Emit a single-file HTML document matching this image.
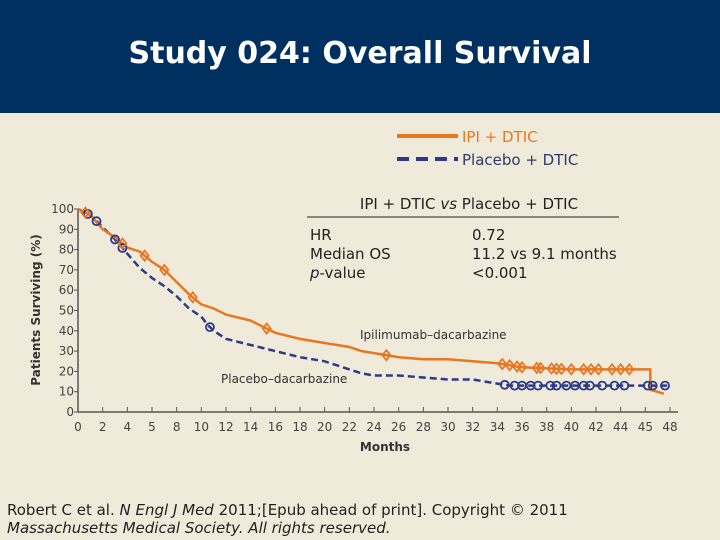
<!DOCTYPE html>
<html><head><meta charset="utf-8"><style>
body{margin:0;width:720px;height:540px;background:#f0eadb;font-family:"DejaVu Sans","Liberation Sans",sans-serif;overflow:hidden;position:relative}
.hdr{position:absolute;left:0;top:0;width:720px;height:113px;background:#00305f}
.hdr h1{margin:0;position:absolute;top:36px;width:720px;text-align:center;color:#fff;font-size:30px;font-weight:bold;font-family:"DejaVu Sans","Liberation Sans",sans-serif}
.t{position:absolute;font-size:15px;color:#222;white-space:nowrap}
</style></head><body>
<div class="hdr"><h1>Study 024: Overall Survival</h1></div>
<svg width="720" height="540" style="position:absolute;left:0;top:0" id="svg">
<g>
<line x1="397" y1="136" x2="458" y2="136" stroke="#e87722" stroke-width="4"/>
<text x="462" y="142" font-size="15" fill="#e87722" font-family="DejaVu Sans, sans-serif">IPI + DTIC</text>
<line x1="397" y1="159" x2="458" y2="159" stroke="#2b3a8a" stroke-width="4" stroke-dasharray="12,7"/>
<text x="462" y="165" font-size="15" fill="#2b3a6a" font-family="DejaVu Sans, sans-serif">Placebo + DTIC</text>
</g>
<text x="469" y="209" font-size="15" fill="#222" text-anchor="middle" font-family="DejaVu Sans, sans-serif">IPI + DTIC <tspan font-style="italic">vs</tspan> Placebo + DTIC</text>
<line x1="307" y1="217" x2="619" y2="217" stroke="#222" stroke-width="1"/>
<g font-size="15" fill="#222" font-family="DejaVu Sans, sans-serif">
<text x="310" y="240">HR</text><text x="310" y="259">Median OS</text><text x="310" y="278"><tspan font-style="italic">p</tspan>-value</text>
<text x="472" y="240">0.72</text><text x="472" y="259">11.2 vs 9.1 months</text><text x="472" y="278">&lt;0.001</text>
</g>
<g id="axes"></g><g id="plot"></g>
<text x="360" y="339" font-size="12" fill="#333" font-family="DejaVu Sans, sans-serif">Ipilimumab–dacarbazine</text>
<text x="221" y="383" font-size="12" fill="#333" font-family="DejaVu Sans, sans-serif">Placebo–dacarbazine</text>
<text x="385" y="451" font-size="12" font-weight="bold" fill="#333" text-anchor="middle" font-family="DejaVu Sans, sans-serif">Months</text>
<text transform="translate(40,310) rotate(-90)" font-size="12" font-weight="bold" fill="#333" text-anchor="middle" font-family="DejaVu Sans, sans-serif">Patients Surviving (%)</text>
</svg>
<div class="t" style="left:7px;top:501px">Robert C et al. <i>N Engl J Med</i> 2011;[Epub ahead of print]. Copyright © 2011<br><i>Massachusetts Medical Society. All rights reserved.</i></div>
<script>
const xTicks=[0,2,4,6,8,10,12,14,16,18,20,22,24,26,28,30,32,34,36,38,40,42,44,46,48];
const xTickLabels=["0","2","4","5","8","10","12","14","16","18","20","22","24","26","28","30","32","34","36","38","40","42","44","45","48"];
const yTicks=[0,10,20,30,40,50,60,70,80,90,100];
const ipiMonths=[0,1,2,3,4,5,6,7,8,9,10,11,12,14,15,16,18,20,22,23,24,26,28,30,32,34,36,40,46.4,46.4,47.5];
const ipiSurv=[100,97,90,86,81,79,74,70,64,58,53,51,48,45,42,39,36,34,32,30,29,27,26,26,25,24,22,21,21,11,9];
const plaMonths=[0,1,2,3,4,5,6,7,8,9,10,10.5,11,12,14,16,18,20,22,23,24,26,28,30,32,34,35,48];
const plaSurv=[100,97,91,85,78,71,66,62,57,51,47,43,40,36,33,30,27,25,21,19,18,18,17,16,16,14,13,13];
const ipiCensor=[0.6,3.6,5.4,7,9.3,15.3,25,34.4,35,35.6,36,37.2,37.5,38.4,38.8,39.2,40,41,41.6,42.2,43.3,44,44.7];
const plaCensor=[0.8,1.5,3,3.6,10.7,34.6,35.4,36,36.7,37.3,38.3,38.8,39.6,40.3,41,41.5,42.5,43.5,44.3,46.2,46.6,47.6];
const NS="http://www.w3.org/2000/svg";
const X0=78,X1=670,Y0=412,Y1=209;
const sx=m=>X0+(X1-X0)*m/48, sy=v=>Y0-(Y0-Y1)*v/100;
function interp(ms,vs,m){let v=vs[0];for(let i=0;i<ms.length;i++){if(ms[i]<=m)v=vs[i];}for(let i=0;i<ms.length-1;i++){if(ms[i]<=m&&m<=ms[i+1]&&ms[i+1]>ms[i]){return vs[i]+(vs[i+1]-vs[i])*(m-ms[i])/(ms[i+1]-ms[i]);}}return v;}
function mk(tag,attrs,parent){const e=document.createElementNS(NS,tag);for(const k in attrs)e.setAttribute(k,attrs[k]);parent.appendChild(e);return e;}
const axes=document.getElementById('axes'),plot=document.getElementById('plot');
let l=mk('line',{x1:X0,y1:Y0,x2:X1+8,y2:Y0,stroke:'#555','stroke-width':1.5},axes);


l=mk('line',{x1:X0,y1:Y0,x2:X0,y2:Y1,stroke:'#555','stroke-width':1.5},axes);


xTicks.forEach((t,i)=>{mk('line',{x1:sx(t),y1:Y0,x2:sx(t),y2:Y0-5,stroke:'#555'},axes);
const tx=mk('text',{x:sx(t),y:Y0+19,'font-size':12,fill:'#444','text-anchor':'middle','font-family':'DejaVu Sans, sans-serif'},axes);tx.textContent=xTickLabels[i];

});
yTicks.forEach(t=>{mk('line',{x1:X0-4,y1:sy(t),x2:X0,y2:sy(t),stroke:'#555'},axes);
const tx=mk('text',{x:X0-4,y:sy(t)+4,'font-size':12,fill:'#444','text-anchor':'end','font-family':'DejaVu Sans, sans-serif'},axes);tx.textContent=t;

});
function path(ms,vs){return ms.map((m,i)=>(i?'L':'M')+sx(m).toFixed(1)+','+sy(vs[i]).toFixed(1)).join('');}
const pp=mk('path',{d:path(plaMonths,plaSurv),fill:'none',stroke:'#2b3a8a','stroke-width':2.5,'stroke-dasharray':'7,4'},plot);


const ip=mk('path',{d:path(ipiMonths,ipiSurv),fill:'none',stroke:'#e87722','stroke-width':2.5},plot);


plaCensor.forEach(m=>{const c=mk('circle',{cx:sx(m),cy:sy(interp(plaMonths,plaSurv,m)),r:4,fill:'none',stroke:'#2b3a8a','stroke-width':1.8},plot);

});
ipiCensor.forEach(m=>{const x=sx(m),y=sy(interp(ipiMonths,ipiSurv,m));const d=mk('path',{d:`M${x},${y-5}L${x+4},${y}L${x},${y+5}L${x-4},${y}Z`,fill:'none',stroke:'#e87722','stroke-width':1.8},plot);

});
</script>
</body></html>
